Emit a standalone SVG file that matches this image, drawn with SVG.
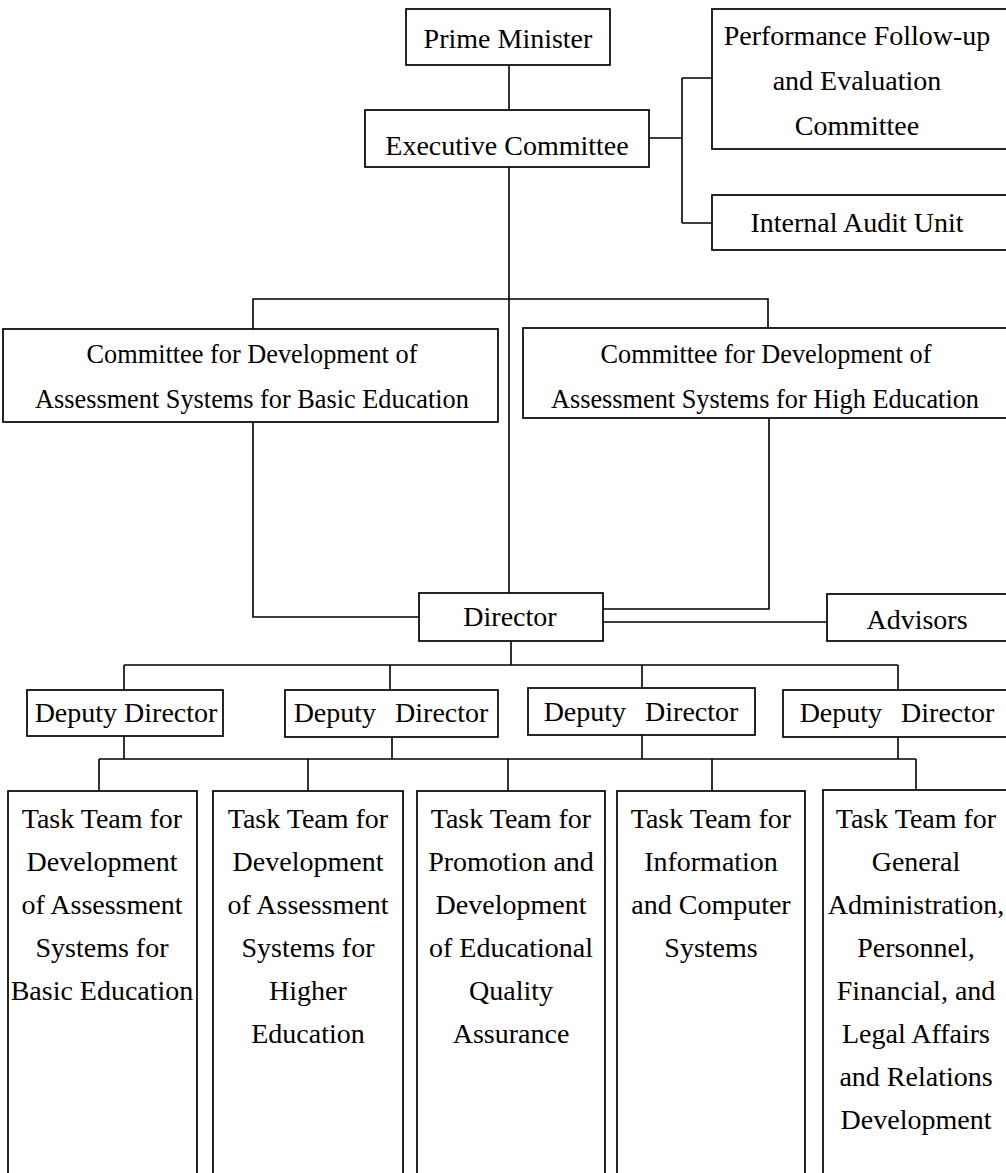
<svg xmlns="http://www.w3.org/2000/svg" width="1006" height="1173" viewBox="0 0 1006 1173">
<style>
  .box { fill: #ffffff; stroke: #000000; stroke-width: 1.7; }
  .ln { fill: none; stroke: #000000; stroke-width: 1.6; }
  text { font-family: "Liberation Serif", "Times New Roman", serif; font-size: 28px; fill: #000000; text-anchor: middle; }
  .cm { font-size: 26.3px; }
  .dd { word-spacing: 12px; }
</style>
<rect x="0" y="0" width="1006" height="1173" fill="#ffffff"/>
<g id="connectors">
  <path class="ln" d="M509 65 V110"/>
  <path class="ln" d="M509 167 V593"/>
  <path class="ln" d="M649 138 H682 M682 78 V223 M682 78 H712 M682 223 H712"/>
  <path class="ln" d="M253 329 V299 H768 V328"/>
  <path class="ln" d="M253 422 V617 H419"/>
  <path class="ln" d="M769 418 V609 H603"/>
  <path class="ln" d="M603 622 H827"/>
  <path class="ln" d="M511 641 V665 M124 665 H898 M124 665 V690 M390 665 V690 M642 665 V689 M898 665 V690"/>
  <path class="ln" d="M124 736 V759 M392 737 V759 M642 735 V759 M898 737 V759 M99 759 H916"/>
  <path class="ln" d="M99 759 V791 M308 759 V791 M508 759 V791 M712 759 V791 M916 759 V791"/>
</g>
<g id="prime-minister">
  <rect class="box" x="406" y="9" width="204" height="56"/>
  <text x="508" y="48">Prime Minister</text>
</g>
<g id="executive-committee">
  <rect class="box" x="365" y="110" width="284" height="57"/>
  <text x="507" y="155">Executive Committee</text>
</g>
<g id="performance-committee">
  <rect class="box" x="712" y="9" width="300" height="140"/>
  <text x="857" y="45">Performance Follow-up</text>
  <text x="857" y="90">and Evaluation</text>
  <text x="857" y="135">Committee</text>
</g>
<g id="internal-audit">
  <rect class="box" x="712" y="195" width="300" height="55"/>
  <text x="857" y="232">Internal Audit Unit</text>
</g>
<g id="committee-basic">
  <rect class="box" x="3" y="329" width="495" height="93"/>
  <text class="cm" x="252" y="363">Committee for Development of</text>
  <text class="cm" x="252" y="408">Assessment Systems for Basic Education</text>
</g>
<g id="committee-high">
  <rect class="box" x="523" y="328" width="489" height="90"/>
  <text class="cm" x="766" y="363">Committee for Development of</text>
  <text class="cm" x="765" y="408">Assessment Systems for High Education</text>
</g>
<g id="director">
  <rect class="box" x="419" y="593" width="184" height="48"/>
  <text x="510" y="626">Director</text>
</g>
<g id="advisors">
  <rect class="box" x="827" y="594" width="185" height="47"/>
  <text x="917" y="629">Advisors</text>
</g>
<g id="deputy-1">
  <rect class="box" x="27" y="690" width="196" height="46"/>
  <text x="126" y="722">Deputy Director</text>
</g>
<g id="deputy-2">
  <rect class="box" x="285" y="690" width="213" height="47"/>
  <text class="dd" x="391" y="722">Deputy Director</text>
</g>
<g id="deputy-3">
  <rect class="box" x="528" y="688" width="227" height="47"/>
  <text class="dd" x="641" y="721">Deputy Director</text>
</g>
<g id="deputy-4">
  <rect class="box" x="783" y="690" width="229" height="47"/>
  <text class="dd" x="897" y="722">Deputy Director</text>
</g>
<g id="task-team-1">
  <rect class="box" x="8" y="791" width="189" height="400"/>
  <text x="102" y="828">Task Team for</text>
  <text x="102" y="871">Development</text>
  <text x="102" y="914">of Assessment</text>
  <text x="102" y="957">Systems for</text>
  <text x="102" y="1000">Basic Education</text>
</g>
<g id="task-team-2">
  <rect class="box" x="213" y="791" width="190" height="400"/>
  <text x="308" y="828">Task Team for</text>
  <text x="308" y="871">Development</text>
  <text x="308" y="914">of Assessment</text>
  <text x="308" y="957">Systems for</text>
  <text x="308" y="1000">Higher</text>
  <text x="308" y="1043">Education</text>
</g>
<g id="task-team-3">
  <rect class="box" x="417" y="791" width="188" height="400"/>
  <text x="511" y="828">Task Team for</text>
  <text x="511" y="871">Promotion and</text>
  <text x="511" y="914">Development</text>
  <text x="511" y="957">of Educational</text>
  <text x="511" y="1000">Quality</text>
  <text x="511" y="1043">Assurance</text>
</g>
<g id="task-team-4">
  <rect class="box" x="617" y="791" width="188" height="400"/>
  <text x="711" y="828">Task Team for</text>
  <text x="711" y="871">Information</text>
  <text x="711" y="914">and Computer</text>
  <text x="711" y="957">Systems</text>
</g>
<g id="task-team-5">
  <rect class="box" x="823" y="790" width="200" height="400"/>
  <text x="916" y="828">Task Team for</text>
  <text x="916" y="871">General</text>
  <text x="916" y="914">Administration,</text>
  <text x="916" y="957">Personnel,</text>
  <text x="916" y="1000">Financial, and</text>
  <text x="916" y="1043">Legal Affairs</text>
  <text x="916" y="1086">and Relations</text>
  <text x="916" y="1129">Development</text>
</g>
</svg>
